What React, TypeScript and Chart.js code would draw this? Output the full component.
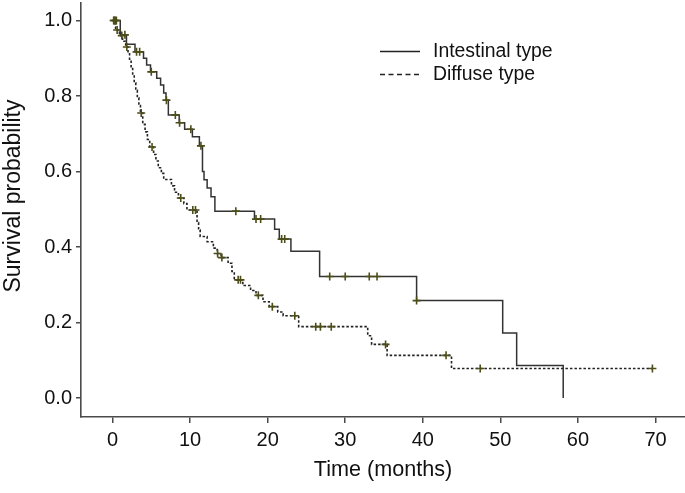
import React, { useEffect, useRef } from 'react';
import { Chart, registerables } from 'chart.js';

Chart.register(...registerables);

// ---- data ----
const xTicks = [0, 10, 20, 30, 40, 50, 60, 70];
const yTicks = [0, 0.2, 0.4, 0.6, 0.8, 1.0];

const seriesNames = ['Intestinal type', 'Diffuse type'];
const xTitle = 'Time (months)';
const yTitle = 'Survival probability';

const intestinalTimes = [1.0, 1.8, 2.9, 4.0, 4.4, 4.9, 5.7, 6.2, 6.6, 6.9, 7.2, 8.6, 9.3, 10.3, 11.2, 11.6, 11.8, 12.2, 12.7, 13.2, 18.3, 20.9, 21.5, 23.0, 26.7, 39.2, 50.3, 52.1, 58.1];
const intestinalSurv = [0.962, 0.937, 0.917, 0.9, 0.882, 0.864, 0.847, 0.829, 0.808, 0.789, 0.75, 0.729, 0.712, 0.692, 0.668, 0.6, 0.578, 0.556, 0.533, 0.495, 0.474, 0.447, 0.421, 0.389, 0.322, 0.258, 0.172, 0.086, 0];
const intestinalCensor = [0.15, 0.5, 1.6, 3.1, 3.5, 5.0, 6.95, 8.1, 8.65, 10.1, 11.4, 15.9, 18.5, 19.1, 21.8, 22.2, 28.0, 30.0, 33.1, 34.1, 39.2];

const diffuseTimes = [0.4, 0.9, 1.3, 1.7, 2.0, 2.2, 2.4, 2.6, 2.8, 3.0, 3.2, 3.4, 3.6, 3.9, 4.2, 4.5, 4.8, 5.3, 5.6, 5.9, 6.3, 6.6, 7.6, 8.0, 8.5, 9.2, 9.6, 10.9, 11.1, 11.3, 12.2, 13.0, 13.5, 14.0, 14.9, 15.4, 15.7, 16.8, 17.8, 18.5, 19.4, 20.2, 21.3, 22.0, 24.0, 32.9, 33.4, 35.4, 43.7];
const diffuseSurv = [0.975, 0.96, 0.945, 0.93, 0.915, 0.895, 0.875, 0.855, 0.835, 0.815, 0.795, 0.775, 0.755, 0.725, 0.705, 0.685, 0.665, 0.645, 0.628, 0.61, 0.595, 0.579, 0.562, 0.545, 0.53, 0.515, 0.498, 0.465, 0.445, 0.428, 0.414, 0.397, 0.383, 0.372, 0.357, 0.335, 0.313, 0.298, 0.285, 0.272, 0.255, 0.242, 0.228, 0.218, 0.189, 0.165, 0.142, 0.113, 0.078];
const diffuseCensor = [0.2, 0.35, 0.6, 1.2, 1.85, 3.7, 5.1, 8.8, 10.35, 10.7, 13.55, 14.1, 16.2, 16.5, 18.8, 20.6, 23.5, 26.2, 26.8, 28.2, 35.2, 43.0, 47.4, 69.6];
const diffuseLastFollowUp = 69.6;

// ---- helpers ----
function survAt(times: number[], surv: number[], t: number) {
  let s = 1;
  for (let i = 0; i < times.length; i++) if (times[i] <= t) s = surv[i];
  return s;
}
function stepPoints(times: number[], surv: number[], end?: number) {
  const pts = [{ x: 0, y: 1 }];
  times.forEach((t, i) => pts.push({ x: t, y: surv[i] }));
  if (end !== undefined) pts.push({ x: end, y: surv[surv.length - 1] });
  return pts;
}
function censorPoints(times: number[], surv: number[], cens: number[]) {
  return cens.map((c) => ({ x: c, y: survAt(times, surv, c) }));
}

const FONT = '"Liberation Sans", Arial, Helvetica, sans-serif';
const AXIS = '#4a4a4a';
const CENSOR = '#4d4d18';
const SOLID_DASH: number[] = [];
const DOT_DASH = [2.5, 2];

const overlayPlugin = {
  id: 'kmOverlay',
  afterDraw(chart: any) {
    const ctx = chart.ctx;
    ctx.save();
    // legend
    const items = [
      { label: seriesNames[0], dash: SOLID_DASH, y: 51.5 },
      { label: seriesNames[1], dash: [5, 3.5], y: 74.5 },
    ];
    items.forEach((it) => {
      ctx.beginPath();
      ctx.setLineDash(it.dash);
      ctx.strokeStyle = '#222';
      ctx.lineWidth = 1.5;
      ctx.moveTo(380, it.y);
      ctx.lineTo(420, it.y);
      ctx.stroke();
      ctx.setLineDash([]);
      ctx.fillStyle = '#111';
      ctx.font = `19.4px ${FONT}`;
      ctx.textBaseline = 'middle';
      ctx.textAlign = 'left';
      ctx.fillText(it.label, 433, it.y);
    });
    // y axis title
    ctx.translate(14, 196);
    ctx.rotate(-Math.PI / 2);
    ctx.font = `23px ${FONT}`;
    ctx.textAlign = 'center';
    ctx.textBaseline = 'middle';
    ctx.fillStyle = '#111';
    ctx.fillText(yTitle, 0, 0);
    ctx.restore();
  },
};

export default function App() {
  const ref = useRef<HTMLCanvasElement | null>(null);
  useEffect(() => {
    if (!ref.current) return;
    const censorStyle = {
      type: 'scatter',
      pointStyle: 'cross',
      pointRadius: 4,
      borderColor: CENSOR,
      backgroundColor: CENSOR,
      pointBorderWidth: 1.6,
      showLine: false,
    };
    const chart = new Chart(ref.current, {
      type: 'line',
      data: {
        datasets: [
          { ...censorStyle, label: 'censor-i', data: censorPoints(intestinalTimes, intestinalSurv, intestinalCensor) } as any,
          { ...censorStyle, label: 'censor-d', data: censorPoints(diffuseTimes, diffuseSurv, diffuseCensor) } as any,
          {
            label: seriesNames[0],
            data: stepPoints(intestinalTimes, intestinalSurv),
            stepped: 'before',
            borderColor: '#333',
            borderWidth: 1.5,
            borderDash: SOLID_DASH,
            pointRadius: 0,
            fill: false,
          },
          {
            label: seriesNames[1],
            data: stepPoints(diffuseTimes, diffuseSurv, diffuseLastFollowUp),
            stepped: 'before',
            borderColor: '#222',
            borderWidth: 1.6,
            borderDash: DOT_DASH,
            pointRadius: 0,
            fill: false,
          },
        ],
      },
      options: {
        animation: false,
        responsive: false,
        maintainAspectRatio: false,
        layout: { autoPadding: false, padding: { top: 3, right: 0, bottom: 0, left: 0 } },
        plugins: { legend: { display: false }, tooltip: { enabled: false } },
        scales: {
          x: {
            type: 'linear',
            min: -4.06,
            max: 73.8,
            afterBuildTicks: (s: any) => {
              s.ticks = xTicks.map((v) => ({ value: v }));
            },
            afterFit: (s: any) => {
              s.height = 76;
              s.paddingLeft = 0;
              s.paddingRight = 0;
            },
            grid: { drawOnChartArea: false, drawTicks: true, tickLength: 6, color: AXIS, lineWidth: 1.5 },
            border: { display: true, color: AXIS, width: 1.6 },
            ticks: { color: '#111', font: { family: FONT, size: 20 }, padding: 5, callback: (v: any) => String(v) },
            title: { display: true, text: xTitle, color: '#111', font: { family: FONT, size: 21.6 }, padding: { top: 0, bottom: 10 } },
          },
          y: {
            type: 'linear',
            min: -0.0503,
            max: 1.0464,
            afterBuildTicks: (s: any) => {
              s.ticks = yTicks.map((v) => ({ value: v }));
            },
            afterFit: (s: any) => {
              s.width = 81;
              s.paddingTop = 0;
              s.paddingBottom = 0;
            },
            grid: { drawOnChartArea: false, drawTicks: true, tickLength: 5, color: AXIS, lineWidth: 1.5 },
            border: { display: true, color: AXIS, width: 1.6 },
            ticks: { color: '#111', font: { family: FONT, size: 20 }, padding: 4, callback: (v: any) => Number(v).toFixed(1) },
            title: { display: false },
          },
        },
      },
      plugins: [overlayPlugin],
    });
    return () => chart.destroy();
  }, []);
  return (
    <div style={{ position: 'fixed', left: 0, top: 0, width: 685, height: 493, background: '#fff' }}>
      <canvas ref={ref} width={685} height={493} style={{ width: 685, height: 493, display: 'block' }} />
    </div>
  );
}
